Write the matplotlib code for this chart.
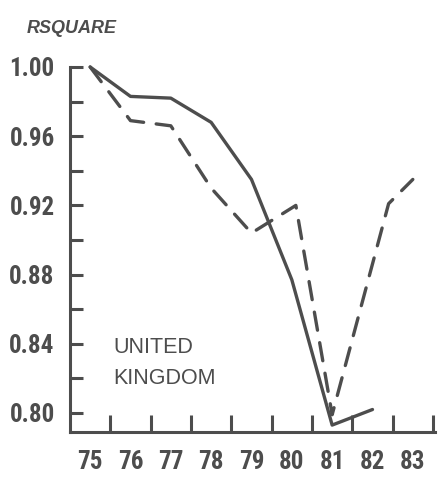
import matplotlib.pyplot as plt
from matplotlib import font_manager
import numpy as np

# values (x = year, 19xx)
solid_years = [75, 76, 77, 78, 79, 80, 81, 82]
solid_rsq = [1.000, 0.983, 0.982, 0.968, 0.935, 0.877, 0.793, 0.802]

dashed_years = [75, 76, 77, 78, 79, 80.1, 81, 82.4, 83]
dashed_rsq = [1.000, 0.969, 0.966, 0.930, 0.904, 0.920, 0.799, 0.921, 0.935]

year_labels = ["75", "76", "77", "78", "79", "80", "81", "82", "83"]
ytick_vals = [0.80, 0.84, 0.88, 0.92, 0.96, 1.00]
ytick_labels = ["0.80", "0.84", "0.88", "0.92", "0.96", "1.00"]

ink = "#4d4d4d"
names = {f.name for f in font_manager.fontManager.ttflist}
tick_font = "DejaVu Sans"
for cand in ["Liberation Sans Narrow", "DejaVu Sans Condensed", "Roboto Condensed"]:
    if cand in names:
        tick_font = cand
        break

fig = plt.figure(figsize=(4.39, 4.78), dpi=100)
ax = fig.add_axes([70 / 439, 1 - 432 / 478, 365 / 439, 365 / 478])

ax.plot(solid_years, solid_rsq, color=ink, lw=2.4, solid_capstyle="round",
        solid_joinstyle="round", clip_on=False)
ax.plot(dashed_years, dashed_rsq, color=ink, lw=2.4, dashes=(5.5, 3.8),
        dash_capstyle="round", clip_on=False)

ax.set_xlim(74.5, 83.55)
ax.set_ylim(0.789, 1.0)

for side in ["top", "right"]:
    ax.spines[side].set_visible(False)
for side in ["left", "bottom"]:
    ax.spines[side].set_linewidth(2.2)
    ax.spines[side].set_color(ink)
    ax.spines[side].set_capstyle("projecting")

lab = dict(fontfamily=tick_font, fontsize=18, fontweight="bold",
           fontstretch="condensed", color=ink)

# y ticks: inward, majors labelled, minors in between
ax.set_yticks(ytick_vals)
ax.set_yticklabels(ytick_labels, **lab)
ax.set_yticks(np.arange(0.82, 1.0, 0.04), minor=True)
ax.tick_params(axis="y", which="both", direction="in", length=9, width=2.2,
               color=ink, pad=11)

# x axis: tick marks between years, labels centred on years
ax.set_xticks(np.arange(75.5, 84, 1.0), minor=True)
ax.set_xticks(solid_years + [83])
ax.set_xticklabels(year_labels, **lab)
ax.tick_params(axis="x", which="major", length=0, pad=13)
ax.tick_params(axis="x", which="minor", direction="in", length=12, width=2.2,
               color=ink)

fig.text(27 / 439, 1 - 33 / 478, "RSQUARE", fontfamily="Liberation Sans",
         fontsize=13, fontweight="bold", fontstyle="italic", color=ink)
fig.text(113 / 439, 1 - 353 / 478, "UNITED", fontfamily="Liberation Sans",
         fontsize=15.5, color=ink)
fig.text(113 / 439, 1 - 384 / 478, "KINGDOM", fontfamily="Liberation Sans",
         fontsize=15.5, color=ink)

fig.savefig("out.png", dpi=100)
